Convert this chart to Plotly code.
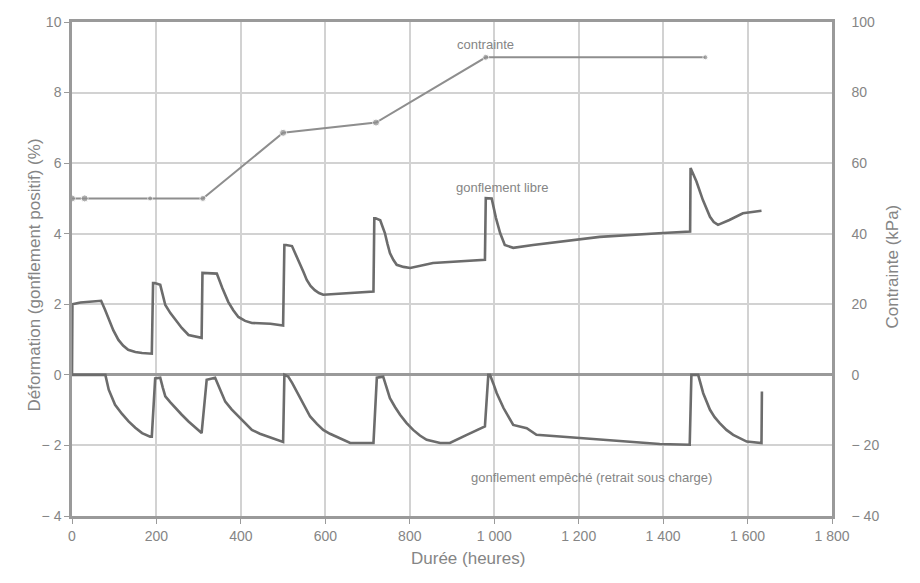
import plotly.graph_objects as go

# ---- data ----
libre_x = [0, 1, 20, 50, 69, 78, 87, 98, 110, 121, 133, 150, 166, 189, 192, 196, 209, 215, 221, 233, 245, 260, 276, 292, 307, 309, 315, 343,
           356, 370, 382, 394, 410, 426, 470, 500,
           503, 507, 521, 530, 540, 548, 556, 565, 575, 585, 595, 650, 714, 716, 719, 730, 741, 747, 753, 761, 769, 785, 801, 855, 978, 980, 984, 994,
           1004, 1014, 1025, 1045, 1092, 1250, 1400, 1464, 1465, 1467, 1479, 1494, 1511, 1520, 1530, 1557, 1589, 1633]
libre_y = [0, 2.0, 2.05, 2.08, 2.1, 1.85, 1.56, 1.26, 0.99, 0.83, 0.71, 0.65, 0.62, 0.6, 2.6, 2.6, 2.55, 2.25, 1.98, 1.75, 1.56, 1.33, 1.13, 1.08, 1.05, 2.89, 2.89, 2.87,
           2.46, 2.07, 1.83, 1.64, 1.53, 1.47, 1.45, 1.4,
           3.68, 3.68, 3.65, 3.42, 3.17, 2.92, 2.69, 2.52, 2.4, 2.32, 2.27, 2.32, 2.36, 4.44, 4.44, 4.38, 4.02, 3.72, 3.45, 3.26, 3.12, 3.06, 3.03, 3.17, 3.26, 5.01, 5.01, 5.0,
           4.45, 4.02, 3.68, 3.6, 3.68, 3.91, 4.02, 4.06, 5.86, 5.8, 5.48, 4.96, 4.48, 4.33, 4.25, 4.39, 4.58, 4.65]

empeche_x = [0, 79, 87, 95, 102, 118, 134, 150, 166, 185, 189, 197, 209, 215, 221, 233, 245, 260, 276, 292, 307, 319, 339, 351, 363, 378, 394, 410, 426, 445, 465, 500,
             503, 512, 522, 532, 548, 564, 580, 595, 611, 627, 659, 714, 722, 737, 745, 753, 765, 777, 792, 808, 824, 840, 872, 895, 935, 978, 986, 990,
             998, 1006, 1022, 1045, 1077, 1100, 1203, 1392, 1463, 1467, 1483, 1489, 1495, 1511, 1522, 1534, 1550, 1566, 1598, 1633, 1634]
empeche_y = [0, 0, -0.42, -0.65, -0.85, -1.1, -1.32, -1.5, -1.65, -1.75, -1.75, -0.1, -0.08, -0.36, -0.61, -0.78, -0.94, -1.13, -1.32, -1.49, -1.65, -0.14, -0.08, -0.42, -0.76, -0.98, -1.18, -1.38, -1.56, -1.67, -1.75, -1.9,
             0, -0.05, -0.24, -0.47, -0.84, -1.18, -1.39, -1.56, -1.67, -1.75, -1.93, -1.93, -0.08, -0.05, -0.36, -0.66, -0.91, -1.13, -1.36, -1.56, -1.72, -1.84, -1.93, -1.93, -1.7, -1.46, 0, 0,
             -0.25, -0.52, -0.94, -1.42, -1.51, -1.7, -1.79, -1.96, -1.98, 0, 0, -0.25, -0.52, -0.99, -1.2, -1.37, -1.56, -1.7, -1.89, -1.93, -0.47]

contrainte_x = [0, 30, 185, 310, 500, 720, 980, 1500]
contrainte_y = [50, 50, 50, 50, 68.6, 71.5, 90, 90]
contrainte_marker_size = [7, 7, 5, 6, 7, 7, 6, 5]

x_ticks = [0, 200, 400, 600, 800, 1000, 1200, 1400, 1600, 1800]
x_ticklabels = ["0", "200", "400", "600", "800", "1 000", "1 200", "1 400", "1 600", "1 800"]
y_ticks = [-4, -2, 0, 2, 4, 6, 8, 10]
y_ticklabels = ["− 4", "− 2", "0", "2", "4", "6", "8", "10"]
y2_ticks = [-40, -20, 0, 20, 40, 60, 80, 100]
y2_ticklabels = ["− 40", "− 20", "0", "20", "40", "60", "80", "100"]

curve_color = "#6c6c6c"
stress_color = "#8e8e8e"
text_color = "#858585"
grid_color = "#d2d2d2"
axis_color = "#9a9a9a"
font_family = "Liberation Sans, Arial, sans-serif"

fig = go.Figure()
fig.add_trace(go.Scatter(x=libre_x, y=libre_y, mode="lines",
                         line=dict(color=curve_color, width=2.6), showlegend=False))
fig.add_trace(go.Scatter(x=empeche_x, y=empeche_y, mode="lines",
                         line=dict(color=curve_color, width=2.6), showlegend=False))
fig.add_trace(go.Scatter(x=contrainte_x, y=contrainte_y, yaxis="y2", mode="lines+markers",
                         line=dict(color=stress_color, width=2),
                         marker=dict(color=stress_color, size=contrainte_marker_size),
                         showlegend=False))

fig.update_layout(
    width=920, height=583,
    margin=dict(l=72, r=88, t=22, b=67),
    paper_bgcolor="white", plot_bgcolor="white",
    font=dict(family=font_family, color=text_color, size=13),
    xaxis=dict(range=[0, 1800], tickvals=x_ticks, ticktext=x_ticklabels, automargin=False,
               showgrid=True, gridcolor=grid_color, gridwidth=1.5,
               showline=True, linecolor=axis_color, linewidth=2.5, mirror=True,
               ticks="outside", ticklen=5, tickcolor=axis_color, zeroline=False,
               tickfont=dict(size=14, color=text_color)),
    yaxis=dict(range=[-4, 10], tickvals=y_ticks, ticktext=y_ticklabels, automargin=False,
               showgrid=True, gridcolor=grid_color, gridwidth=1.5,
               showline=True, linecolor=axis_color, linewidth=2.5,
               ticks="outside", ticklen=5, tickcolor=axis_color,
               zeroline=True, zerolinecolor=axis_color, zerolinewidth=2.5,
               tickfont=dict(size=14, color=text_color)),
    yaxis2=dict(range=[-40, 100], tickvals=y2_ticks, ticktext=y2_ticklabels, automargin=False,
                overlaying="y", side="right", showgrid=False, zeroline=False,
                showline=True, linecolor=axis_color, linewidth=2.5,
                ticks="outside", ticklen=0, tickcolor=axis_color, ticklabelstandoff=14,
                tickfont=dict(size=14, color=text_color)),
    annotations=[
        dict(text="contrainte", x=980, y=9.1, xref="x", yref="y", showarrow=False,
             yanchor="bottom", font=dict(size=13, color=text_color)),
        dict(text="gonflement libre", x=1020, y=5.05, xref="x", yref="y", showarrow=False,
             yanchor="bottom", font=dict(size=13, color=text_color)),
        dict(text="gonflement empêché (retrait sous charge)", x=1230, y=-2.9, xref="x", yref="y",
             showarrow=False, font=dict(size=13, color=text_color)),
        dict(text="Durée (heures)", x=468, y=570, xref="paper", yref="paper",
             showarrow=False, font=dict(size=17, color=text_color)),
        dict(text="Déformation (gonflement positif) (%)", x=22, y=275, xref="paper", yref="paper",
             textangle=-90, showarrow=False, font=dict(size=17, color=text_color)),
        dict(text="Contrainte (kPa)", x=903, y=266, xref="paper", yref="paper",
             textangle=-90, showarrow=False, font=dict(size=17, color=text_color)),
    ],
)

# convert pixel positions of the axis titles into paper coordinates
pl, pr, pt, pb = 72, 920 - 88, 22, 583 - 67
for a in fig.layout.annotations:
    if a.xref == "paper":
        a.x = (a.x - pl) / (pr - pl)
        a.y = (pb - a.y) / (pb - pt)

fig.write_html(
    "out.html",
    config={"displayModeBar": False},
    post_script="document.body.style.margin='0';document.body.style.overflow='hidden';",
)
